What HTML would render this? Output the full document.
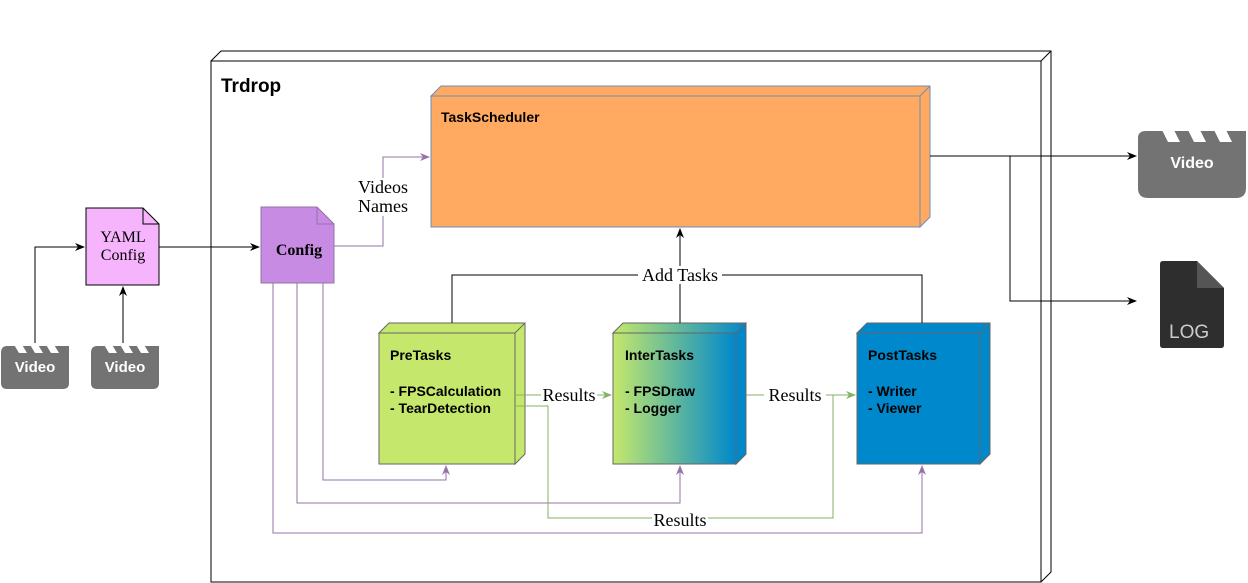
<!DOCTYPE html>
<html><head><meta charset="utf-8"><style>html,body{margin:0;padding:0;background:#fff}svg{display:block}</style></head><body>
<svg width="1248" height="583" viewBox="0 0 1248 583" xmlns="http://www.w3.org/2000/svg">
<defs>
<marker id="ab" markerWidth="10" markerHeight="10" refX="9" refY="5" orient="auto" markerUnits="userSpaceOnUse"><path d="M0,1 L10,5 L0,9 L3,5 Z" fill="#000"/></marker>
<marker id="ap" markerWidth="10" markerHeight="10" refX="9" refY="5" orient="auto" markerUnits="userSpaceOnUse"><path d="M0,1 L10,5 L0,9 L3,5 Z" fill="#9673A6"/></marker>
<marker id="ag" markerWidth="10" markerHeight="10" refX="9" refY="5" orient="auto" markerUnits="userSpaceOnUse"><path d="M0,1 L10,5 L0,9 L3,5 Z" fill="#82B366"/></marker>
<linearGradient id="gi" x1="0" x2="1" y1="0" y2="0"><stop offset="0" stop-color="#C5E86C"/><stop offset="1" stop-color="#0088CC"/></linearGradient>
<linearGradient id="gt" gradientUnits="userSpaceOnUse" x1="613" x2="746" y1="0" y2="0"><stop offset="0" stop-color="#C5E86C"/><stop offset="1" stop-color="#0088CC"/></linearGradient>
</defs>
<path d="M211,61 L221,51 L1051,51 L1051,572 L1041,582 Z" fill="#fff" stroke="#000"/>
<rect x="211" y="61" width="830" height="521" fill="#fff" stroke="#000"/>
<line x1="1041" y1="61" x2="1051" y2="51" stroke="#000"/>
<text x="221" y="92" font-family="Liberation Sans, sans-serif" font-weight="bold" font-size="19">Trdrop</text>
<path d="M431,96 L441,86 L930,86 L930,217 L920,227 L920,96 Z" fill="#FFA961" stroke="#6C8EBF"/>
<rect x="431" y="96" width="489" height="131" fill="#FFA961" stroke="#6C8EBF"/>
<line x1="920" y1="96" x2="930" y2="86" stroke="#6C8EBF"/>
<text x="441" y="122" font-family="Liberation Sans, sans-serif" font-weight="bold" font-size="14">TaskScheduler</text>
<path d="M261,207 L317,207 L334,224 L334,283 L261,283 Z" fill="#C78BE3" stroke="#9673A6"/>
<path d="M317,207 L317,224 L334,224" fill="none" stroke="#9673A6"/>
<text x="299" y="255" text-anchor="middle" font-family="Liberation Serif, serif" font-weight="bold" font-size="16">Config</text>
<path d="M86,208 L143,208 L159,224 L159,285 L86,285 Z" fill="#F5B4FC" stroke="#000"/>
<path d="M143,208 L143,224 L159,224" fill="none" stroke="#000"/>
<text x="123" y="242" text-anchor="middle" font-family="Liberation Serif, serif" font-size="16">YAML</text>
<text x="123" y="260" text-anchor="middle" font-family="Liberation Serif, serif" font-size="16">Config</text>
<g font-family="Liberation Sans, sans-serif" font-weight="bold" fill="#fff">
<g transform="translate(1,343)"><path d="M0,10 Q0,3 6,3 L68,3 L68,40 Q68,46 62,46 L6,46 Q0,46 0,40 Z" fill="#737373"/><path d="M12,0 L20,0 L26,10 L18,10 Z M28,0 L36,0 L42,10 L34,10 Z M44,0 L52,0 L58,10 L50,10 Z" fill="#fff"/><text x="34" y="29" text-anchor="middle" font-size="15">Video</text></g>
<g transform="translate(91,343)"><path d="M0,10 Q0,3 6,3 L68,3 L68,40 Q68,46 62,46 L6,46 Q0,46 0,40 Z" fill="#737373"/><path d="M12,0 L20,0 L26,10 L18,10 Z M28,0 L36,0 L42,10 L34,10 Z M44,0 L52,0 L58,10 L50,10 Z" fill="#fff"/><text x="34" y="29" text-anchor="middle" font-size="15">Video</text></g>
<g transform="translate(1138,126)"><path d="M0,12 Q0,5 8,5 L108,5 L108,62 Q108,72 98,72 L10,72 Q0,72 0,62 Z" fill="#737373"/><path d="M22,0 L34,0 L42,16 L30,16 Z M48,0 L60,0 L68,16 L56,16 Z M74,0 L86,0 L94,16 L82,16 Z" fill="#fff"/><text x="54" y="42" text-anchor="middle" font-size="16">Video</text></g>
</g>
<path d="M1163,261 L1197,261 L1224,288 L1224,345 Q1224,348 1221,348 L1163,348 Q1160,348 1160,345 L1160,264 Q1160,261 1163,261 Z" fill="#2E2E2E"/>
<path d="M1197,261 L1224,288 L1197,288 Z" fill="#555"/>
<text x="1169" y="338" font-family="Liberation Sans, sans-serif" font-size="19" fill="#ccc">LOG</text>
<g font-family="Liberation Sans, sans-serif" font-weight="bold" font-size="14">
<path d="M379,333 L389,323 L525,323 L525,454 L515,464 L515,333 Z" fill="#C5E86C" stroke="#666"/>
<rect x="379" y="333" width="136" height="131" fill="#C5E86C" stroke="#666"/>
<line x1="515" y1="333" x2="525" y2="323" stroke="#666"/>
<text x="390" y="360">PreTasks</text><text x="390" y="396">- FPSCalculation</text><text x="390" y="413">- TearDetection</text>
<path d="M613,333 L623,323 L746,323 L746,454 L736,464 L736,333 Z" fill="url(#gt)" stroke="#666"/>
<path d="M736,333 L746,323 L746,454 L736,464 Z" fill="#0088CC" stroke="#666"/>
<rect x="613" y="333" width="123" height="131" fill="url(#gi)" stroke="#666"/>
<text x="625" y="360">InterTasks</text><text x="625" y="396">- FPSDraw</text><text x="625" y="413">- Logger</text>
<path d="M857,333 L867,323 L990,323 L990,454 L980,464 L980,333 Z" fill="#0088CC" stroke="#666"/>
<rect x="857" y="333" width="123" height="131" fill="#0088CC" stroke="#666"/>
<line x1="980" y1="333" x2="990" y2="323" stroke="#666"/>
<text x="868" y="360">PostTasks</text><text x="868" y="396">- Writer</text><text x="868" y="413">- Viewer</text>
</g>
<g fill="none" stroke="#000">
<path d="M159,247 L259,247" marker-end="url(#ab)"/>
<path d="M35,343 L35,247 L84,247" marker-end="url(#ab)"/>
<path d="M123,343 L123,287" marker-end="url(#ab)"/>
<path d="M930,156 L1136,156" marker-end="url(#ab)"/>
<path d="M1010,156 L1010,301 L1136,301" marker-end="url(#ab)"/>
<path d="M680,323 L680,229" marker-end="url(#ab)"/>
<path d="M452,323 L452,275 L922,275 L922,323"/>
</g>
<g fill="none" stroke="#9673A6">
<path d="M334,246 L383,246 L383,157 L429,157" marker-end="url(#ap)"/>
<path d="M323,283 L323,480 L446,480 L446,466" marker-end="url(#ap)"/>
<path d="M297,283 L297,503 L680,503 L680,466" marker-end="url(#ap)"/>
<path d="M273,283 L273,533 L922,533 L922,466" marker-end="url(#ap)"/>
</g>
<g fill="none" stroke="#82B366">
<path d="M515,395 L611,395" marker-end="url(#ag)"/>
<path d="M746,395 L855,395" marker-end="url(#ag)"/>
<path d="M515,406 L548,406 L548,518 L833,518 L833,395"/>
</g>
<g font-family="Liberation Serif, serif" font-size="18" text-anchor="middle">
<rect x="356" y="178" width="54" height="38" fill="#fff"/>
<text x="383" y="193">Videos</text><text x="383" y="212">Names</text>
<rect x="638" y="266" width="84" height="18" fill="#fff"/><text x="680" y="281">Add Tasks</text>
<rect x="541" y="386" width="56" height="18" fill="#fff"/><text x="569" y="401">Results</text>
<rect x="764" y="386" width="62" height="18" fill="#fff"/><text x="795" y="401">Results</text>
<rect x="652" y="510" width="56" height="18" fill="#fff"/><text x="680" y="526">Results</text>
</g>
</svg>
</body></html>
